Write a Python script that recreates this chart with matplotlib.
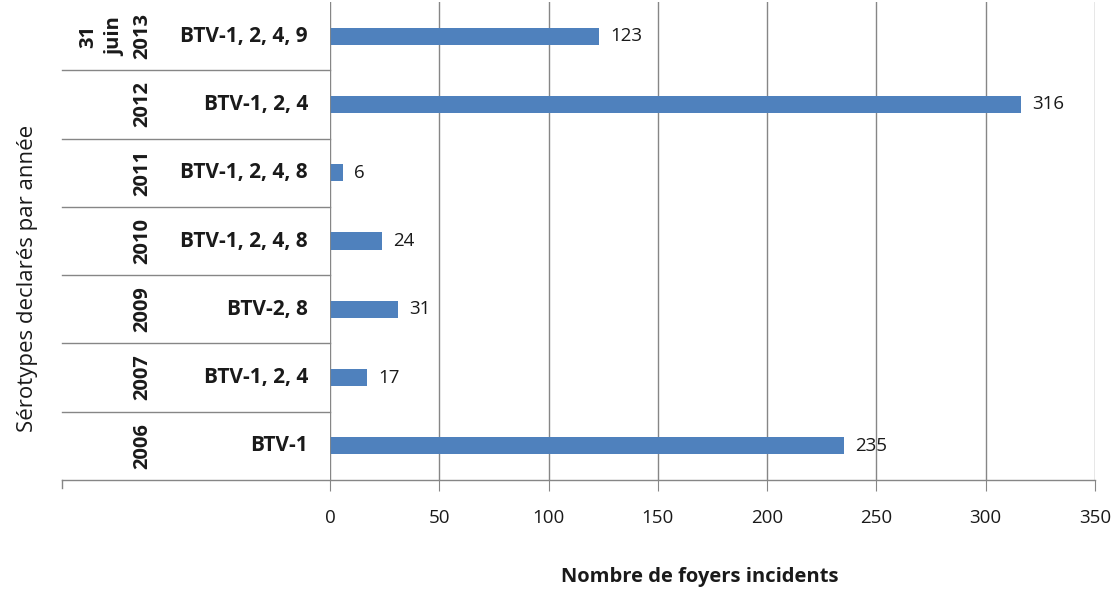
import matplotlib.pyplot as plt
import matplotlib.transforms as mtransforms

plt.rcParams['font.family'] = ['Open Sans', 'DejaVu Sans']

years = ["2006", "2007", "2009", "2010", "2011", "2012", "31\njuin\n2013"]
serotypes = ["BTV-1", "BTV-1, 2, 4", "BTV-2, 8", "BTV-1, 2, 4, 8",
             "BTV-1, 2, 4, 8", "BTV-1, 2, 4", "BTV-1, 2, 4, 9"]
foyers = [235, 17, 31, 24, 6, 316, 123]
xticks = [0, 50, 100, 150, 200, 250, 300, 350]

W, H = 1120, 590
fig = plt.figure(figsize=(W / 100, H / 100), dpi=100)
left, right, top, bottom = 330, 1095, 2, 480
ax = fig.add_axes([left / W, 1 - bottom / H, (right - left) / W, (bottom - top) / H])

pos = list(range(len(foyers)))
ax.barh(pos, foyers, height=0.25, color='#4F81BD', zorder=3)
for p, v in zip(pos, foyers):
    ax.annotate(str(v), (v, p), xytext=(8, 0), textcoords='offset points',
                va='center', ha='left', fontsize=13.5, color='#1a1a1a')

ax.set_xlim(0, 350)
ax.set_ylim(-0.5, len(foyers) - 0.5)
ax.set_xticks(xticks)
ax.set_xticklabels([str(t) for t in xticks], fontsize=13.5, color='#1a1a1a')
ax.tick_params(axis='x', direction='out', length=8, color='#868686', pad=13)
ax.set_yticks([])
for s in ['top', 'right', 'left', 'bottom']:
    ax.spines[s].set_visible(False)
ax.grid(axis='x', color='#868686', lw=1, zorder=0)
ax.axvline(0, color='#868686', lw=1.2, zorder=4)

# category separators of the two-level axis
trans = mtransforms.blended_transform_factory(ax.transAxes, ax.transData)
x0 = (62 - left) / (right - left)
for k in range(len(foyers)):
    b = k - 0.5
    ax.plot([x0, 0 if k else 1], [b, b], transform=trans, color='#868686',
            lw=1, clip_on=False, zorder=4)
ax.plot([x0, x0], [-0.5, -0.62], transform=trans, color='#868686', lw=1, clip_on=False)

for p, s, y in zip(pos, serotypes, years):
    ax.text((308 - left) / (right - left), p, s, transform=trans, ha='right',
            va='center', fontsize=15, fontweight='bold', color='#1a1a1a')
    ax.text((152 - left) / (right - left), p, y, transform=trans, ha='right',
            va='center', rotation=90, fontsize=14.5, fontweight='bold',
            color='#1a1a1a', multialignment='center', linespacing=1.45)

fig.text(28 / W, 1 - 278 / H, "Sérotypes declarés par année", rotation=90,
         ha='center', va='center', fontsize=16, color='#1a1a1a')
fig.text(700 / W, 1 - 577 / H, "Nombre de foyers incidents", ha='center',
         va='center', fontsize=14.5, fontweight='bold', color='#1a1a1a')

fig.savefig('out.png', dpi=100)
